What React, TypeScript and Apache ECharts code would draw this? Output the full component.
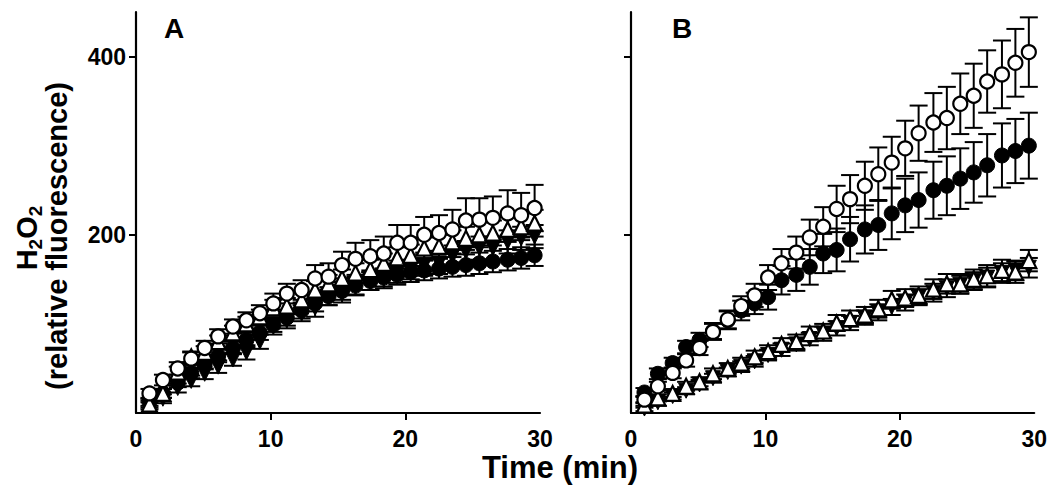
import React, { useEffect, useRef } from "react";
import * as echarts from "echarts";

// Time points (min)
const times = [1.0, 2.0, 3.1, 4.1, 5.1, 6.1, 7.2, 8.2, 9.2, 10.2, 11.2, 12.3, 13.3, 14.3, 15.3, 16.3, 17.4, 18.4, 19.4, 20.4, 21.4, 22.5, 23.5, 24.5, 25.5, 26.5, 27.6, 28.6, 29.6];

// Panel A
const aOpenCircle = [22, 37, 50, 61, 73, 86, 97, 104, 112, 123, 134, 138, 151, 153, 166, 173, 176, 179, 191, 191, 200, 202, 206, 216, 217, 219, 224, 222, 230];
const aOpenCircleErr = [5, 6, 7, 7, 8, 8, 8, 9, 9, 11, 11, 11, 15, 15, 15, 18, 18, 19, 20, 20, 20, 20, 22, 25, 24, 24, 26, 25, 26];
const aFilledCircle = [12, 22, 34, 45, 55, 64, 73, 82, 90, 99, 107, 115, 123, 131, 137, 143, 148, 152, 155, 158, 160, 162, 164, 166, 168, 170, 172, 174, 177];
const aFilledCircleErr = [4, 5, 5, 6, 6, 7, 7, 8, 8, 8, 9, 9, 9, 10, 10, 10, 10, 10, 11, 11, 11, 11, 11, 12, 12, 12, 12, 12, 12];
const aOpenTriangle = [10, 22, 46, 63, 68, 80, 90, 100, 108, 118, 120, 127, 138, 145, 151, 157, 161, 168, 174, 177, 185, 187, 192, 196, 200, 202, 206, 209, 213];
const aOpenTriangleErr = [4, 5, 6, 6, 7, 7, 8, 8, 8, 9, 9, 9, 10, 10, 10, 11, 11, 11, 12, 12, 12, 13, 13, 13, 14, 14, 14, 15, 15];
const aFilledDown = [8, 16, 28, 36, 44, 52, 60, 68, 80, 97, 104, 112, 118, 131, 134, 142, 149, 151, 157, 161, 166, 168, 176, 181, 185, 185, 192, 196, 198];
const aFilledDownErr = [4, 5, 5, 6, 6, 7, 7, 8, 8, 9, 9, 9, 10, 10, 10, 10, 11, 11, 11, 11, 12, 12, 12, 12, 13, 13, 13, 13, 13];

// Panel B
const bOpenCircle = [15, 30, 45, 59, 73, 91, 105, 120, 132, 152, 168, 180, 197, 209, 229, 240, 255, 268, 281, 297, 314, 326, 331, 347, 356, 372, 380, 393, 405];
const bOpenCircleErr = [4, 5, 6, 7, 8, 9, 10, 11, 13, 14, 16, 18, 20, 22, 26, 27, 27, 30, 29, 31, 31, 33, 35, 34, 36, 35, 38, 38, 39];
const bFilledCircle = [23, 44, 56, 74, 82, 92, 104, 115, 123, 130, 149, 155, 164, 179, 183, 195, 206, 211, 224, 233, 239, 250, 255, 263, 270, 278, 289, 294, 300];
const bFilledCircleErr = [5, 6, 6, 7, 8, 9, 10, 11, 12, 14, 16, 18, 20, 22, 24, 25, 27, 28, 29, 30, 31, 32, 33, 34, 34, 35, 36, 36, 37];
const bOpenTriangle = [9, 17, 22, 30, 35, 44, 50, 56, 63, 69, 77, 80, 89, 92, 101, 106, 110, 117, 127, 129, 132, 139, 145, 145, 150, 154, 160, 158, 171];
const bOpenTriangleErr = [3, 4, 4, 5, 5, 6, 6, 6, 7, 7, 7, 8, 8, 8, 9, 9, 9, 10, 10, 10, 10, 11, 11, 11, 11, 12, 12, 12, 12];
const bFilledDown = [5, 12, 19, 25, 32, 39, 46, 52, 58, 65, 71, 77, 83, 89, 95, 101, 107, 113, 119, 124, 130, 135, 140, 144, 148, 152, 157, 160, 163];
const bFilledDownErr = [3, 4, 4, 4, 5, 5, 5, 6, 6, 6, 7, 7, 7, 8, 8, 8, 8, 9, 9, 9, 9, 10, 10, 10, 10, 11, 11, 11, 11];

const xTickLabels = [0, 10, 20, 30];
const yTickValues = [200, 400];

const FONT = "'Liberation Sans', Arial, Helvetica, sans-serif";

function errSeries(idx: number, vals: number[], errs: number[]) {
  return {
    type: "custom",
    xAxisIndex: idx,
    yAxisIndex: idx,
    silent: true,
    z: 2,
    data: times.map((t, i) => [t, vals[i], errs[i]]),
    renderItem: (params: any, api: any) => {
      const x = api.value(0);
      const y = api.value(1);
      const e = api.value(2);
      const top = api.coord([x, y + e]);
      const bot = api.coord([x, Math.max(0, y - e)]);
      const hw = 9;
      const st = { stroke: "#000", lineWidth: 2 };
      return {
        type: "group",
        children: [
          { type: "line", shape: { x1: top[0], y1: top[1], x2: bot[0], y2: bot[1] }, style: st },
          { type: "line", shape: { x1: top[0] - hw, y1: top[1], x2: top[0] + hw, y2: top[1] }, style: st },
          { type: "line", shape: { x1: bot[0] - hw, y1: bot[1], x2: bot[0] + hw, y2: bot[1] }, style: st },
        ],
      };
    },
  };
}

function markSeries(idx: number, vals: number[], kind: string) {
  const base: any = {
    type: "scatter",
    xAxisIndex: idx,
    yAxisIndex: idx,
    silent: true,
    z: 3,
    data: times.map((t, i) => [t, vals[i]]),
  };
  if (kind === "openCircle") {
    return { ...base, z: 6, symbol: "circle", symbolSize: 14, itemStyle: { color: "#fff", borderColor: "#000", borderWidth: 2.2, opacity: 1 } };
  }
  if (kind === "filledCircle") {
    return { ...base, z: 3, symbol: "circle", symbolSize: 15, itemStyle: { color: "#000", borderColor: "#000", borderWidth: 1, opacity: 1 } };
  }
  if (kind === "openTriangle") {
    return { ...base, z: 5, symbol: "triangle", symbolSize: 15, itemStyle: { color: "#fff", borderColor: "#000", borderWidth: 2.2, opacity: 1 } };
  }
  return { ...base, z: 4, symbol: "triangle", symbolRotate: 180, symbolSize: 15, itemStyle: { color: "#000", borderColor: "#000", borderWidth: 1, opacity: 1 } };
}

function xAxis(idx: number) {
  return {
    type: "value",
    gridIndex: idx,
    min: 0,
    max: 30,
    interval: 10,
    axisLine: { show: true, onZero: false, lineStyle: { color: "#000", width: 2.2 } },
    axisTick: { show: true, length: 7, customValues: [10, 20], lineStyle: { color: "#000", width: 2 } },
    axisLabel: { customValues: xTickLabels, color: "#000", fontFamily: FONT, fontWeight: "bold", fontSize: 23, margin: 14 },
    splitLine: { show: false },
  };
}

function yAxis(idx: number, showLabels: boolean) {
  return {
    type: "value",
    gridIndex: idx,
    min: 0,
    max: 450,
    interval: 200,
    axisLine: { show: true, onZero: false, lineStyle: { color: "#000", width: 2.2 } },
    axisTick: { show: true, length: 7, customValues: yTickValues, lineStyle: { color: "#000", width: 2 } },
    axisLabel: { show: showLabels, customValues: yTickValues, color: "#000", fontFamily: FONT, fontWeight: "bold", fontSize: 23, margin: 10 },
    splitLine: { show: false },
  };
}

export default function App() {
  const ref = useRef<HTMLDivElement>(null);
  useEffect(() => {
    const chart = echarts.init(ref.current as HTMLDivElement, null, { renderer: "svg" });
    const panels = [
      [aOpenCircle, aOpenCircleErr, aFilledCircle, aFilledCircleErr, aOpenTriangle, aOpenTriangleErr, aFilledDown, aFilledDownErr],
      [bOpenCircle, bOpenCircleErr, bFilledCircle, bFilledCircleErr, bOpenTriangle, bOpenTriangleErr, bFilledDown, bFilledDownErr],
    ];
    const series: any[] = [];
    panels.forEach((p, idx) => {
      series.push(errSeries(idx, p[2], p[3]));
      series.push(errSeries(idx, p[6], p[7]));
      series.push(errSeries(idx, p[4], p[5]));
      series.push(errSeries(idx, p[0], p[1]));
      series.push(markSeries(idx, p[2], "filledCircle"));
      series.push(markSeries(idx, p[6], "filledDown"));
      series.push(markSeries(idx, p[4], "openTriangle"));
      series.push(markSeries(idx, p[0], "openCircle"));
    });
    const option: any = {
      animation: false,
      backgroundColor: "#fff",
      grid: [
        { left: 136, top: 12, width: 404, height: 401 },
        { left: 631, top: 12, width: 404, height: 401 },
      ],
      xAxis: [xAxis(0), xAxis(1)],
      yAxis: [yAxis(0, true), yAxis(1, false)],
      series,
      graphic: [
        { type: "text", left: 164, top: 14, style: { text: "A", fill: "#000", font: `bold 28px ${FONT}` } },
        { type: "text", left: 672, top: 14, style: { text: "B", fill: "#000", font: `bold 28px ${FONT}` } },
        {
          type: "text",
          x: 560,
          y: 467,
          style: { text: "Time (min)", fill: "#000", font: `bold 31px ${FONT}`, align: "center", verticalAlign: "middle" },
        },
        {
          type: "text",
          x: 57,
          y: 236,
          rotation: Math.PI / 2,
          style: { text: "(relative fluorescence)", fill: "#000", font: `bold 29px ${FONT}`, align: "center", verticalAlign: "middle" },
        },
        {
          type: "text",
          x: 25,
          y: 238,
          rotation: Math.PI / 2,
          style: {
            text: "{b|H}{s|2}{b|O}{s|2}",
            align: "center",
            verticalAlign: "middle",
            rich: {
              b: { fontFamily: FONT, fontWeight: "bold", fontSize: 29, fill: "#000", lineHeight: 32, verticalAlign: "bottom" },
              s: { fontFamily: FONT, fontWeight: "bold", fontSize: 19, fill: "#000", lineHeight: 18, verticalAlign: "bottom", padding: [0, 0, -4, 0] },
            },
          },
        },
      ],
    };
    chart.setOption(option);
    return () => chart.dispose();
  }, []);
  return <div ref={ref} style={{ position: "fixed", left: 0, top: 0, width: 1050, height: 495, background: "#fff" }} />;
}
